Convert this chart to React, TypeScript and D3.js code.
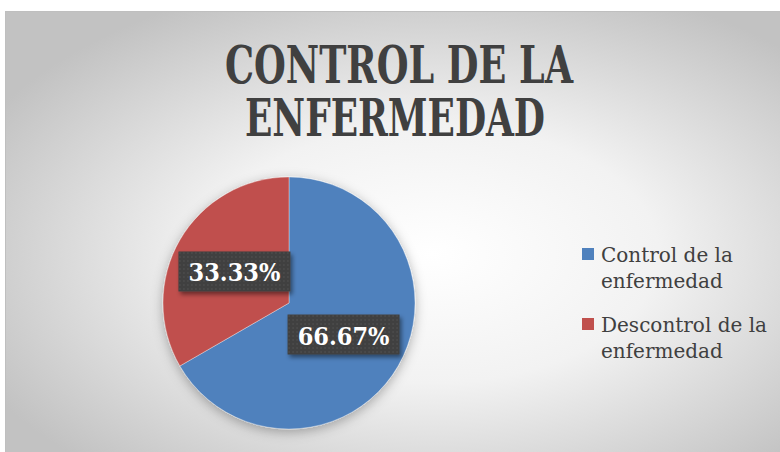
import React from 'react';
import * as d3 from 'd3';

const categories = ['Control de la enfermedad', 'Descontrol de la enfermedad'];
const values = [66.67, 33.33];
const valueLabels = ['66.67%', '33.33%'];
const legendLines = [['Control de la', 'enfermedad'], ['Descontrol de la', 'enfermedad']];
const titleLines = ['CONTROL DE LA', 'ENFERMEDAD'];
const colors = ['#4F81BD', '#C0504D'];

export default function App() {
  const width = 780;
  const height = 452;
  const cx = 289;
  const cy = 303;
  const radius = 126;

  const pie = d3.pie<number>().sort(null).value(d => d);
  const arcs = pie(values);
  const arc = d3.arc<d3.PieArcDatum<number>>().innerRadius(0).outerRadius(radius);

  const color = d3.scaleOrdinal<string, string>().domain(categories).range(colors);

  const boxW = 112;
  const boxH = 40;

  return (
    <svg width={width} height={height} style={{ position: 'absolute', left: 0, top: 0 }}>
      <defs>
        <radialGradient id="bg" cx="55%" cy="55%" r="65%">
          <stop offset="0%" stopColor="#ffffff" />
          <stop offset="45%" stopColor="#f2f2f2" />
          <stop offset="100%" stopColor="#c2c2c2" />
        </radialGradient>
        <pattern id="dots" width="4" height="4" patternUnits="userSpaceOnUse">
          <rect width="4" height="4" fill="#404040" />
          <rect x="1" y="1" width="1" height="1" fill="#5e5e5e" />
        </pattern>
        <filter id="pieShadow" x="-30%" y="-30%" width="160%" height="160%">
          <feDropShadow dx="0" dy="3" stdDeviation="6" floodColor="#000" floodOpacity="0.3" />
        </filter>
        <filter id="boxShadow" x="-20%" y="-30%" width="140%" height="170%">
          <feDropShadow dx="2" dy="3" stdDeviation="2" floodColor="#000" floodOpacity="0.45" />
        </filter>
      </defs>

      <rect x={5.5} y={11.5} width={width - 5} height={height - 11} fill="url(#bg)" stroke="#bfbfbf" strokeWidth={1} />

      <g fontFamily="'DejaVu Serif Condensed', 'DejaVu Serif', serif" fontWeight="bold" fill="#404040" textAnchor="middle">
        <text x={399} y={83} fontSize={53} textLength={348} lengthAdjust="spacingAndGlyphs">{titleLines[0]}</text>
        <text x={395} y={136} fontSize={53} textLength={300} lengthAdjust="spacingAndGlyphs">{titleLines[1]}</text>
      </g>

      <g transform={`translate(${cx},${cy})`}>
        <g filter="url(#pieShadow)">
          {arcs.map((a, i) => (
            <path key={i} d={arc(a) || ''} fill={color(categories[i])} stroke="#ffffff" strokeOpacity={0.5} strokeWidth={0.7} />
          ))}
        </g>
        {arcs.map((a, i) => {
          const [lx, ly] = arc.centroid(a);
          return (
            <g key={'l' + i} transform={`translate(${lx},${ly})`}>
              <rect x={-boxW / 2} y={-boxH / 2} width={boxW} height={boxH} fill="url(#dots)" filter="url(#boxShadow)" />
              <text
                y={10}
                textAnchor="middle"
                fill="#ffffff"
                fontFamily="'DejaVu Serif Condensed', 'DejaVu Serif', serif"
                fontWeight="bold"
                fontSize={25}
              >
                {valueLabels[i]}
              </text>
            </g>
          );
        })}
      </g>

      <g fontFamily="'DejaVu Serif', serif" fontSize={20} fill="#404040">
        {legendLines.map((lines, i) => (
          <g key={i} transform={`translate(582,${248 + i * 70})`}>
            <rect width={12} height={12} fill={colors[i]} />
            {lines.map((ln, j) => (
              <text key={j} x={19} y={14 + j * 26}>{ln}</text>
            ))}
          </g>
        ))}
      </g>
    </svg>
  );
}
